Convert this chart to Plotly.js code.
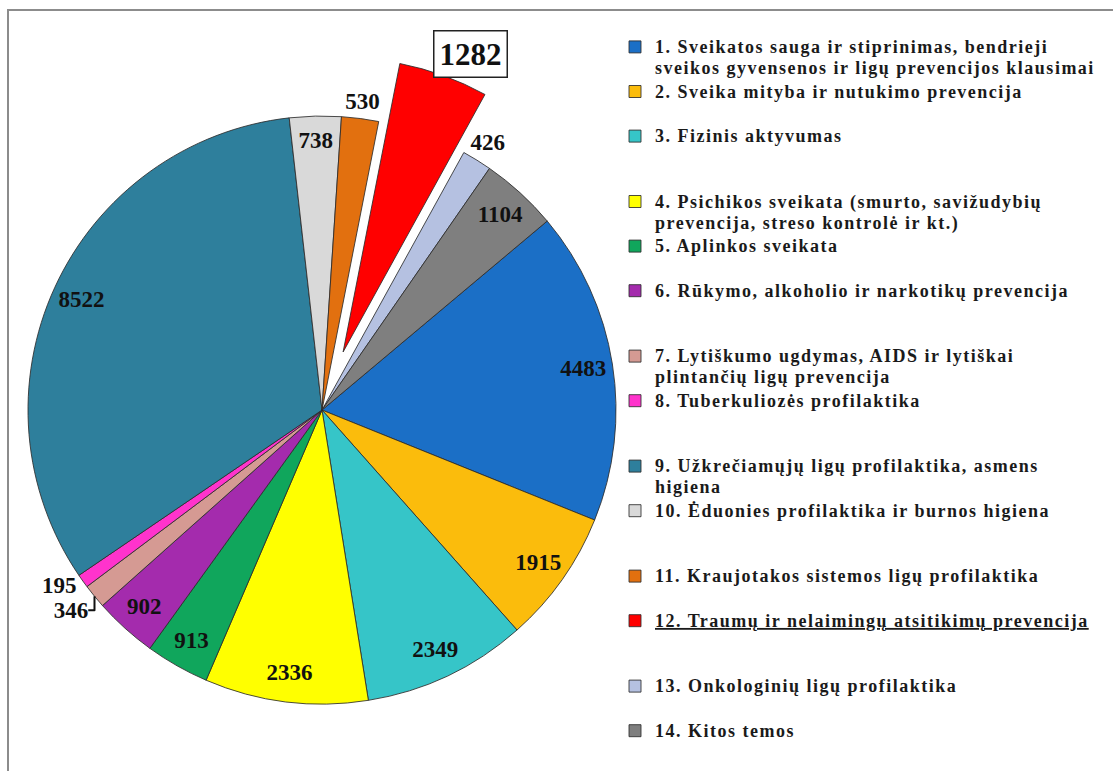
<!DOCTYPE html>
<html>
<head>
<meta charset="utf-8">
<script src="https://cdn.plot.ly/plotly-3.0.1.min.js"></script>
<style>
html, body { margin:0; padding:0; background:#fff; overflow:hidden; width:1113px; height:771px; }
#wrap { position:absolute; left:-40px; top:0; width:1153px; height:771px; }
#frame { position:absolute; left:7px; top:9px; width:1300px; height:1000px;
         border-left:2px solid #8c8c8c; border-top:2px solid #8c8c8c; pointer-events:none; }
</style>
</head>
<body>
<div id="wrap"></div>
<div id="frame"></div>
<script>
// ---- data ----
const categories = [
  "1. Sveikatos sauga ir stiprinimas, bendrieji<br>sveikos gyvensenos ir ligų prevencijos klausimai",
  "2. Sveika mityba ir nutukimo prevencija",
  "3. Fizinis aktyvumas",
  "4. Psichikos sveikata (smurto, savižudybių<br>prevencija, streso kontrolė ir kt.)",
  "5. Aplinkos sveikata",
  "6. Rūkymo, alkoholio ir narkotikų prevencija",
  "7. Lytiškumo ugdymas, AIDS ir lytiškai<br>plintančių ligų prevencija",
  "8. Tuberkuliozės profilaktika",
  "9. Užkrečiamųjų ligų profilaktika, asmens<br>higiena",
  "10. Ėduonies profilaktika ir burnos higiena",
  "11. Kraujotakos sistemos ligų profilaktika",
  "12. Traumų ir nelaimingų atsitikimų prevencija",
  "13. Onkologinių ligų profilaktika",
  "14. Kitos temos"
];
const values = [4483, 1915, 2349, 2336, 913, 902, 346, 195, 8522, 738, 530, 1282, 426, 1104];
const highlightIndex = 11;   // "12. Traumų ..." – pulled out & boxed

// ---- styling ----
const colors = ["#1b6fc6", "#fbbc0c", "#36c5c8", "#ffff00", "#10a65c", "#a42bad", "#d59a93",
                "#ff33cc", "#2e7f9c", "#d9d9d9", "#e2700f", "#ff0000", "#b5c1e1", "#7f7f7f"];
const SERIF = "Liberation Serif, Times New Roman, serif";
const LABEL_SIZE = 23;

const total = values.reduce((a, b) => a + b, 0);
const isSmall = values.map(v => v / total < 0.025);
const upperSmall = [10, 12];               // small slices labelled just above their edge
const pulls = values.map((v, i) => i === highlightIndex ? 0.21 : 0);

// value labels: inner ring (inside end), leader-line labels, and labels just outside the top edge
const posRing = values.map((v, i) => i === highlightIndex ? "none" :
  (isSmall[i] ? (upperSmall.includes(i) ? "none" : "outside") : "inside"));
const posTop = values.map((v, i) => upperSmall.includes(i) ? "inside" : "none");

// legend line padding (to spread the entries like the original)
const legendLines = [2, 2, 3, 2, 2, 3, 2, 3, 2, 3, 2, 3, 2, 1];
const legendLabels = categories.map((c, i) => {
  const parts = c.split("<br>");
  const st = "font-size:18px;letter-spacing:1.5px" + (i === highlightIndex ? ";text-decoration:underline" : "");
  let s = parts.map(p => `<span style="${st}">${p}</span>`).join("<br>");
  for (let k = parts.length; k < legendLines[i]; k++) s += "<br> ";
  return s;
});

const W = 1153, H = 771, CX = 362, CY = 410;
const domain = { x: [0, 724 / W], y: [0.0068, 0.9296] };
const R3 = 331;
const domainTop = { x: [(CX - R3) / W, (CX + R3) / W], y: [1 - (CY + R3) / H, 1 - (CY - R3) / H] };

const common = { type: "pie", labels: legendLabels, values: values, sort: false,
                 direction: "clockwise", rotation: 50 };
const labelFont = { family: SERIF, size: LABEL_SIZE, color: "#111", weight: "bold" };

const pieMain = Object.assign({}, common, {
  pull: pulls,
  domain: domain,
  marker: { colors: colors, line: { color: "rgba(45,45,45,0.85)", width: 1 } },
  textinfo: "none",
  hoverinfo: "label+value",
  showlegend: true
});

const pieRing = Object.assign({}, common, {
  pull: pulls,
  hole: 0.8,
  domain: domain,
  marker: { colors: values.map(() => "rgba(0,0,0,0)"), line: { width: 0 } },
  textinfo: "value",
  textposition: posRing,
  insidetextorientation: "auto",
  textfont: labelFont,
  hoverinfo: "skip",
  showlegend: false
});

const pieTop = Object.assign({}, common, {
  hole: 0.88,
  domain: domainTop,
  marker: { colors: values.map(() => "rgba(0,0,0,0)"), line: { width: 0 } },
  textinfo: "value",
  textposition: posTop,
  insidetextorientation: "horizontal",
  textfont: labelFont,
  hoverinfo: "skip",
  showlegend: false
});

const layout = {
  width: W,
  height: H,
  margin: { l: 0, r: 0, t: 0, b: 0 },
  paper_bgcolor: "rgba(0,0,0,0)",
  plot_bgcolor: "rgba(0,0,0,0)",
  showlegend: true,
  uniformtext: { mode: "show", minsize: LABEL_SIZE },
  legend: {
    x: 655 / W, xanchor: "left",
    y: 1 - 30 / H, yanchor: "top",
    valign: "top",
    font: { family: SERIF, size: 16, color: "#1a1a1a", weight: "bold" },
    bgcolor: "rgba(0,0,0,0)",
    traceorder: "normal"
  },
  annotations: [{
    xref: "paper", yref: "paper",
    x: 510.5 / W, y: 1 - 54 / H, xanchor: "center", yanchor: "middle",
    text: String(values[highlightIndex]),
    showarrow: false,
    font: { family: SERIF, size: 31, color: "#111", weight: "bold" },
    bordercolor: "#222", borderwidth: 1.5, borderpad: 5, bgcolor: "#fff"
  }]
};

Plotly.newPlot("wrap", [pieMain, pieRing, pieTop], layout, { staticPlot: true, displayModeBar: false });
</script>
</body>
</html>
